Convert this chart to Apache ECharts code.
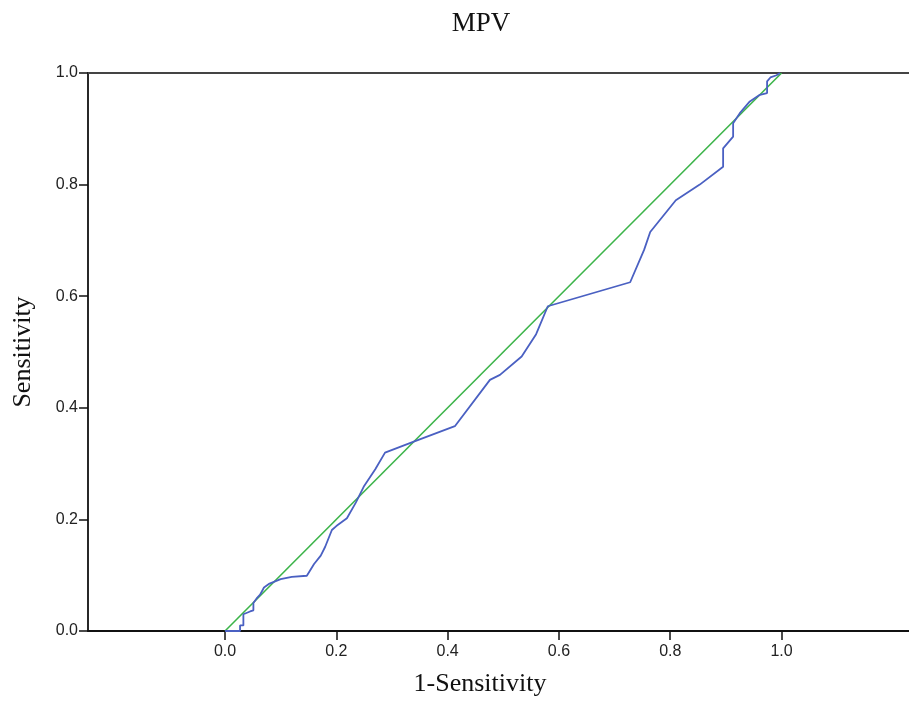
<!DOCTYPE html>
<html>
<head>
<meta charset="utf-8">
<script src="https://cdn.jsdelivr.net/npm/echarts@6/dist/echarts.min.js"></script>
<style>html,body{margin:0;padding:0;background:#fff}#c{width:909px;height:701px}</style>
</head>
<body>
<div id="c"></div>
<script>
const title = "MPV";
const xName = "1-Sensitivity";
const yName = "Sensitivity";
const tickValues = [0, 0.2, 0.4, 0.6, 0.8, 1.0];
const rocX = [0, 0.027, 0.027, 0.033, 0.033, 0.045, 0.051, 0.051, 0.058, 0.063, 0.07, 0.08, 0.1, 0.12, 0.147, 0.16, 0.172, 0.18, 0.192, 0.2, 0.219, 0.235, 0.25, 0.27, 0.2875, 0.338, 0.413, 0.476, 0.494, 0.533, 0.559, 0.58, 0.728, 0.753, 0.764, 0.81, 0.853, 0.895, 0.895, 0.913, 0.913, 0.925, 0.943, 0.961, 0.974, 0.974, 0.98, 0.991, 0.997];
const rocY = [0, 0, 0.01, 0.01, 0.03, 0.035, 0.037, 0.05, 0.06, 0.065, 0.078, 0.085, 0.093, 0.097, 0.099, 0.12, 0.135, 0.151, 0.181, 0.188, 0.202, 0.23, 0.26, 0.29, 0.3196, 0.339, 0.367, 0.45, 0.459, 0.492, 0.532, 0.582, 0.625, 0.683, 0.715, 0.772, 0.8, 0.832, 0.865, 0.886, 0.91, 0.928, 0.949, 0.961, 0.964, 0.985, 0.992, 0.996, 1.0];
const refX = [0, 1];
const refY = [0, 1];

const chart = echarts.init(document.getElementById('c'));
const labelStyle = {fontFamily: 'Liberation Sans, Arial, sans-serif', fontSize: 16, color: '#222'};
const serif = 'Liberation Serif, Times New Roman, serif';
chart.setOption({
  animation: false,
  title: {text: title, left: 481, top: 10, padding: 0, textAlign: 'center',
    textStyle: {fontFamily: serif, fontSize: 27, fontWeight: 'normal', color: '#111'}},
  grid: {left: 88, top: 73, right: 0, bottom: 70, containLabel: false, outerBoundsMode: 'none'},
  xAxis: [{
    type: 'value', min: -0.2462, max: 1.229, position: 'bottom',
    name: xName, nameLocation: 'middle', nameGap: 40,
    nameTextStyle: {fontFamily: serif, fontSize: 26, color: '#111', padding: [0, 37, 0, 0]},
    splitLine: {show: false},
    axisLine: {show: true, onZero: false, lineStyle: {color: '#111', width: 1.8}},
    axisTick: {show: true, customValues: tickValues, length: 9, lineStyle: {color: '#111', width: 1.5}},
    axisLabel: Object.assign({customValues: tickValues, margin: 13, formatter: v => v.toFixed(1)}, labelStyle)
  }, {
    type: 'value', min: -0.2462, max: 1.229, position: 'top',
    splitLine: {show: false},
    axisLine: {show: true, onZero: false, lineStyle: {color: '#444', width: 2}},
    axisTick: {show: false}, axisLabel: {show: false}
  }],
  yAxis: {
    type: 'value', min: 0, max: 1, interval: 0.2,
    name: yName, nameLocation: 'middle', nameGap: 52,
    nameTextStyle: {fontFamily: serif, fontSize: 26, color: '#111'},
    splitLine: {show: false},
    axisLine: {show: true, onZero: false, lineStyle: {color: '#111', width: 1.8}},
    axisTick: {show: true, length: 9, lineStyle: {color: '#111', width: 1.5}},
    axisLabel: Object.assign({margin: 10, formatter: v => v.toFixed(1)}, labelStyle)
  },
  series: [{
    type: 'line', xAxisIndex: 0, data: refX.map((x, i) => [x, refY[i]]),
    showSymbol: false, lineStyle: {color: '#3cb44a', width: 1.6}, z: 3
  }, {
    type: 'line', xAxisIndex: 0, data: rocX.map((x, i) => [x, rocY[i]]),
    showSymbol: false, lineStyle: {color: '#4a60c2', width: 1.8}, z: 4
  }]
});
</script>
</body>
</html>
